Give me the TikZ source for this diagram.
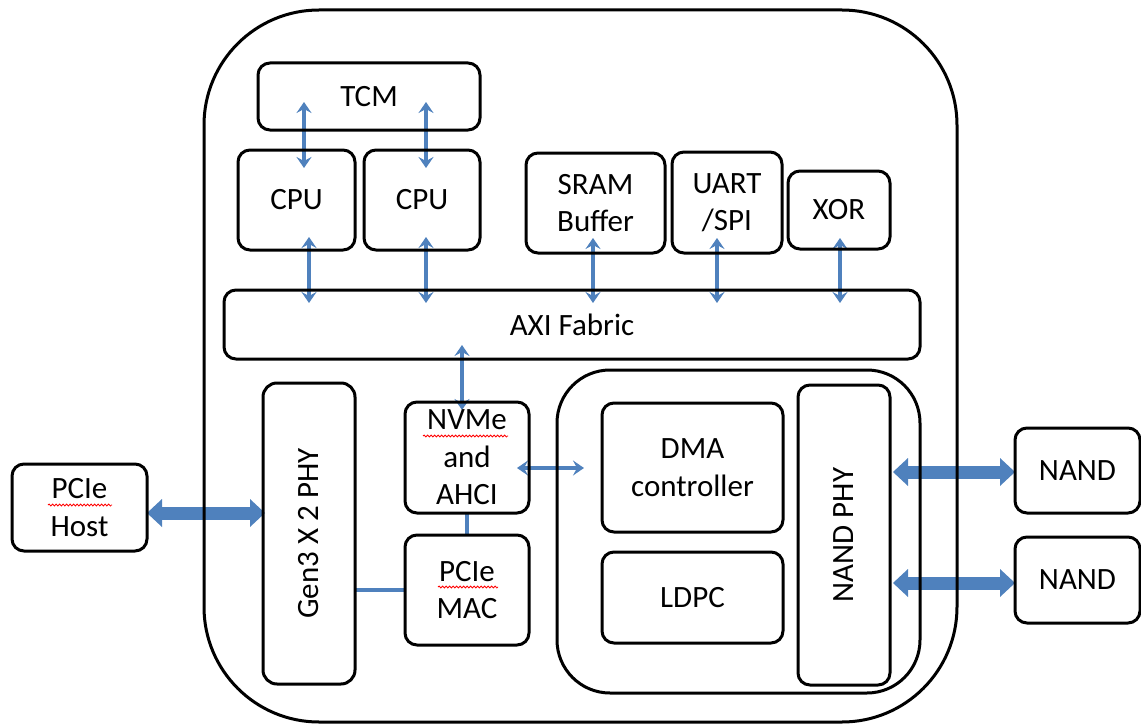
\documentclass[tikz,border=0pt]{standalone}
\usepackage{fontspec}
\setmainfont{Carlito}
\usetikzlibrary{arrows.meta,calc,backgrounds,decorations.pathmorphing}
\definecolor{ablue}{HTML}{4F81BD}
\begin{document}
\begin{tikzpicture}[x=1pt,y=-1pt,
  box/.style={draw=black, line width=3pt, rounded corners=12pt, inner sep=0pt, outer sep=0pt, align=center, font=\fontsize{31}{37.5}\selectfont},
  lbl/.style={font=\fontsize{31}{37.5}\selectfont, inner sep=0pt},
  biarrow/.style={draw=ablue, line width=3.2pt, {Stealth[length=11pt,width=15pt,inset=4pt]}-{Stealth[length=11pt,width=15pt,inset=4pt]}},
  fatarrow/.style={draw=ablue, line width=13pt, {Triangle[length=15pt,width=28pt,line width=0pt]}-{Triangle[length=15pt,width=28pt,line width=0pt]}},
  link/.style={draw=ablue, line width=3.2pt},
  spell/.style={draw=red, line width=0.8pt, decorate, decoration={snake, amplitude=1pt, segment length=3.5pt}}
]
\useasboundingbox (0,0) rectangle (1141,725);
% outer chip and NAND subsystem
\node[box, rounded corners=115pt, minimum width=753pt, minimum height=712pt] (chip) at (580.5,366) {};
\node[box, rounded corners=53pt, minimum width=363pt, minimum height=323pt] (nandsub) at (738.5,531.5) {};
% top row
\node[box, minimum width=222pt, minimum height=67pt] (tcm) at (369,96.5) {TCM};
\node[box, minimum width=117pt, minimum height=100pt] (cpu1) at (296.5,200) {CPU};
\node[box, minimum width=116pt, minimum height=100pt] (cpu2) at (422,200) {CPU};
\node[box, minimum width=139pt, minimum height=100pt] (sram) at (595.5,203) {SRAM\\Buffer};
\node[box, minimum width=110pt, minimum height=101pt] (uart) at (727,202.5) {UART\\/SPI};
\node[box, minimum width=102pt, minimum height=78pt] (xor) at (839,210) {XOR};
\node[box, minimum width=696pt, minimum height=69pt] (axi) at (572,324.5) {AXI Fabric};
% lower left
\node[box, rounded corners=14pt, minimum width=92pt, minimum height=301pt] (gen3) at (309,533.5) {};
\node[lbl, rotate=90] (gen3txt) at (gen3.center) {Gen3 X 2 PHY};
\node[box, minimum width=124pt, minimum height=111pt] (nvme) at (467,457.5) {NVMe\\and\\AHCI};
\node[box, minimum width=124pt, minimum height=110pt] (mac) at (467,590) {PCIe\\MAC};
% NAND subsystem
\node[box, minimum width=181pt, minimum height=129pt] (dma) at (692.5,467.5) {DMA\\controller};
\node[box, minimum width=181pt, minimum height=91pt] (ldpc) at (692.5,597.5) {LDPC};
\node[box, rounded corners=12pt, minimum width=92pt, minimum height=300pt] (nandphy) at (844,535) {};
\node[lbl, rotate=90] (nandphytxt) at (nandphy.center) {NAND PHY};
% outside
\node[box, minimum width=135pt, minimum height=87pt] (host) at (79.5,507.5) {PCIe\\Host};
\node[box, minimum width=125pt, minimum height=85pt] (nand1) at (1077.5,470.5) {NAND};
\node[box, minimum width=125pt, minimum height=86pt] (nand2) at (1077.5,580) {NAND};
% connectors
\begin{pgfonlayer}{background}
\draw[biarrow] ($(cpu1.north |- tcm.south)+(7.5,-28)$) -- ($(cpu1.north)+(7.5,18)$);
\draw[biarrow] ($(cpu2.north |- tcm.south)+(4,-28)$) -- ($(cpu2.north)+(4,18)$);
\draw[biarrow] ($(cpu1.south)+(12.5,-13)$) -- ($(cpu1.south |- axi.north)+(12.5,13)$);
\draw[biarrow] ($(cpu2.south)+(4,-13)$) -- ($(cpu2.south |- axi.north)+(4,13)$);
\draw[biarrow] ($(sram.south)+(-2.5,-15)$) -- ($(sram.south |- axi.north)+(-2.5,13)$);
\draw[biarrow] ($(uart.south)+(-10,-15)$) -- ($(uart.south |- axi.north)+(-10,13)$);
\draw[biarrow] ($(xor.south)+(1,-11)$) -- ($(xor.south |- axi.north)+(1,13)$);
\draw[biarrow] ($(nvme.north |- axi.south)+(-5,-14)$) -- ($(nvme.north)+(-5,8)$);
\draw[biarrow] ($(nvme.east)+(-12,10.5)$) -- ($(dma.west |- nvme.east)+(-18,10.5)$);
\draw[link] (nvme.south) -- (mac.north);
\draw[link] (gen3.east |- mac.west) -- (mac.west);
\draw[fatarrow] ($(host.east)+(0,5.5)$) -- ($(gen3.west |- host.east)+(2,5.5)$);
\draw[fatarrow] ($(nandphy.east |- nand1.west)+(3,1.5)$) -- ($(nand1.west)+(0,1.5)$);
\draw[fatarrow] ($(nandphy.east |- nand2.west)+(3,3)$) -- ($(nand2.west)+(0,3)$);
\end{pgfonlayer}
% spell-check underlines
\draw[spell] (48,505) -- (112,505);
\draw[spell] (423,436) -- (508,436);
\draw[spell] (438,587) -- (498,587);
\end{tikzpicture}
\end{document}
